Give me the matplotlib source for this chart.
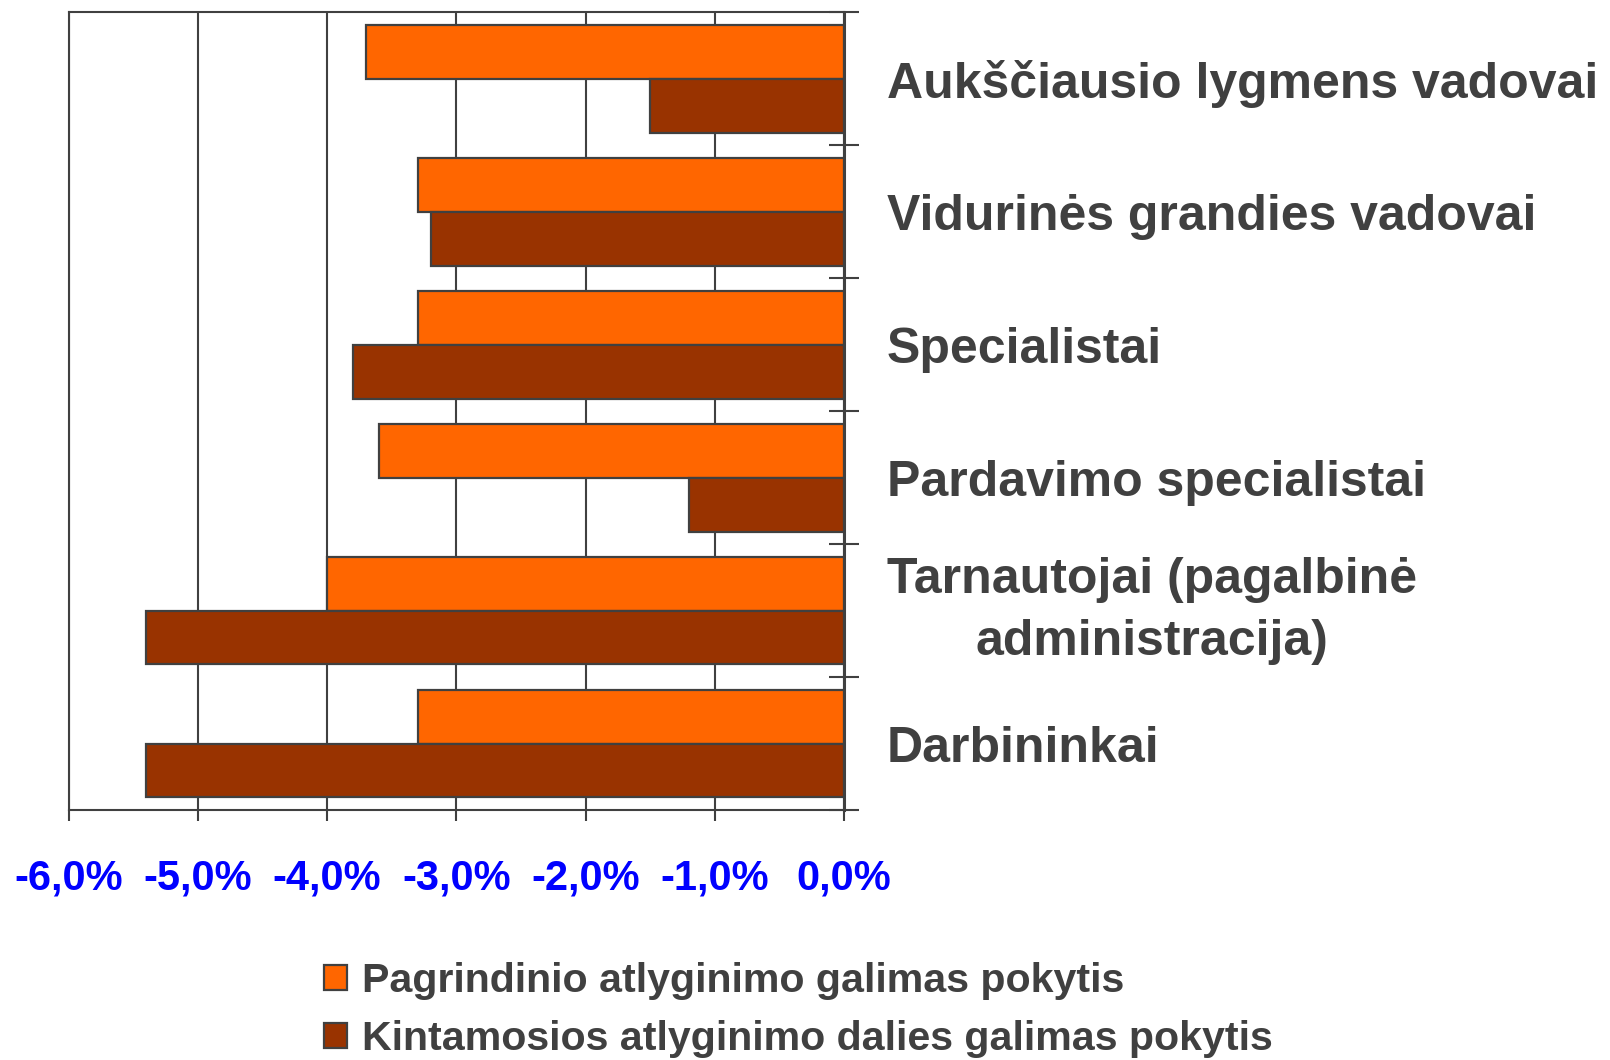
import matplotlib
matplotlib.use("Agg")
import matplotlib.pyplot as plt
import numpy as np

plt.rcParams['font.family'] = ['Liberation Sans', 'DejaVu Sans']

categories = ["Aukščiausio lygmens vadovai",
              "Vidurinės grandies vadovai",
              "Specialistai",
              "Pardavimo specialistai",
              "Tarnautojai (pagalbinė\nadministracija)",
              "Darbininkai"]
base_pay = [-3.7, -3.3, -3.3, -3.6, -4.0, -3.3]
variable_pay = [-1.5, -3.2, -3.8, -1.2, -5.4, -5.4]
series_names = ["Pagrindinio atlyginimo galimas pokytis",
                "Kintamosios atlyginimo dalies galimas pokytis"]
x_ticks = [-6, -5, -4, -3, -2, -1, 0]
x_tick_labels = ["-6,0%", "-5,0%", "-4,0%", "-3,0%", "-2,0%", "-1,0%", "0,0%"]

ORANGE = "#FF6600"
BROWN = "#993300"
EDGE = "#404040"
TXT = "#404040"

fig = plt.figure(figsize=(16.1, 10.6), dpi=100)
ax = fig.add_axes([0.0427, 0.2358, 0.5242 - 0.0427, 0.9884 - 0.2358])

y = np.arange(len(categories))
h = 0.405
b1 = ax.barh(y - h / 2, base_pay, height=h, color=ORANGE, edgecolor=EDGE,
             linewidth=1.6, zorder=3, label=series_names[0])
b2 = ax.barh(y + h / 2, variable_pay, height=h, color=BROWN, edgecolor=EDGE,
             linewidth=1.6, zorder=3, label=series_names[1])

ax.set_xlim(-6, 0)
ax.set_ylim(len(categories) - 0.5, -0.5)

ax.set_xticks(x_ticks)
ax.set_xticklabels(x_tick_labels)
ax.tick_params(axis='x', direction='out', length=8, width=1.5, color=EDGE,
               labelcolor='#0000FF', labelsize=30, pad=27)
for t in ax.get_xticklabels():
    t.set_fontweight('bold')

ax.yaxis.tick_right()
ax.set_yticks(y)
ax.set_yticklabels(categories, ha='left', multialignment='center')
ax.set_yticks(np.arange(len(categories) + 1) - 0.5, minor=True)
ax.tick_params(axis='y', which='major', length=0, pad=31, labelsize=36,
               labelcolor=TXT)
ax.tick_params(axis='y', which='minor', direction='inout', length=22,
               width=1.5, color=EDGE)
for t in ax.get_yticklabels():
    t.set_fontweight('bold')
    if "\n" in t.get_text():
        t.set_linespacing(1.45)
        t.set_verticalalignment('center')

ax.grid(axis='x', color=EDGE, linewidth=1.5, zorder=0)
ax.set_axisbelow(True)
for s in ax.spines.values():
    s.set_color(EDGE)
    s.set_linewidth(1.5)
ax.spines['right'].set_linewidth(2.2)
ax.spines['right'].set_zorder(4)

leg = fig.legend(handles=[b1, b2], labels=series_names, loc='upper left',
                 bbox_to_anchor=(0.2015, 0.092), frameon=False,
                 prop={'size': 29.6, 'weight': 'bold'},
                 handlelength=0.56, handleheight=0.56, handletextpad=0.36,
                 labelspacing=0.48, borderaxespad=0, borderpad=0)
for t in leg.get_texts():
    t.set_color(TXT)

fig.savefig("out.png", dpi=100)
